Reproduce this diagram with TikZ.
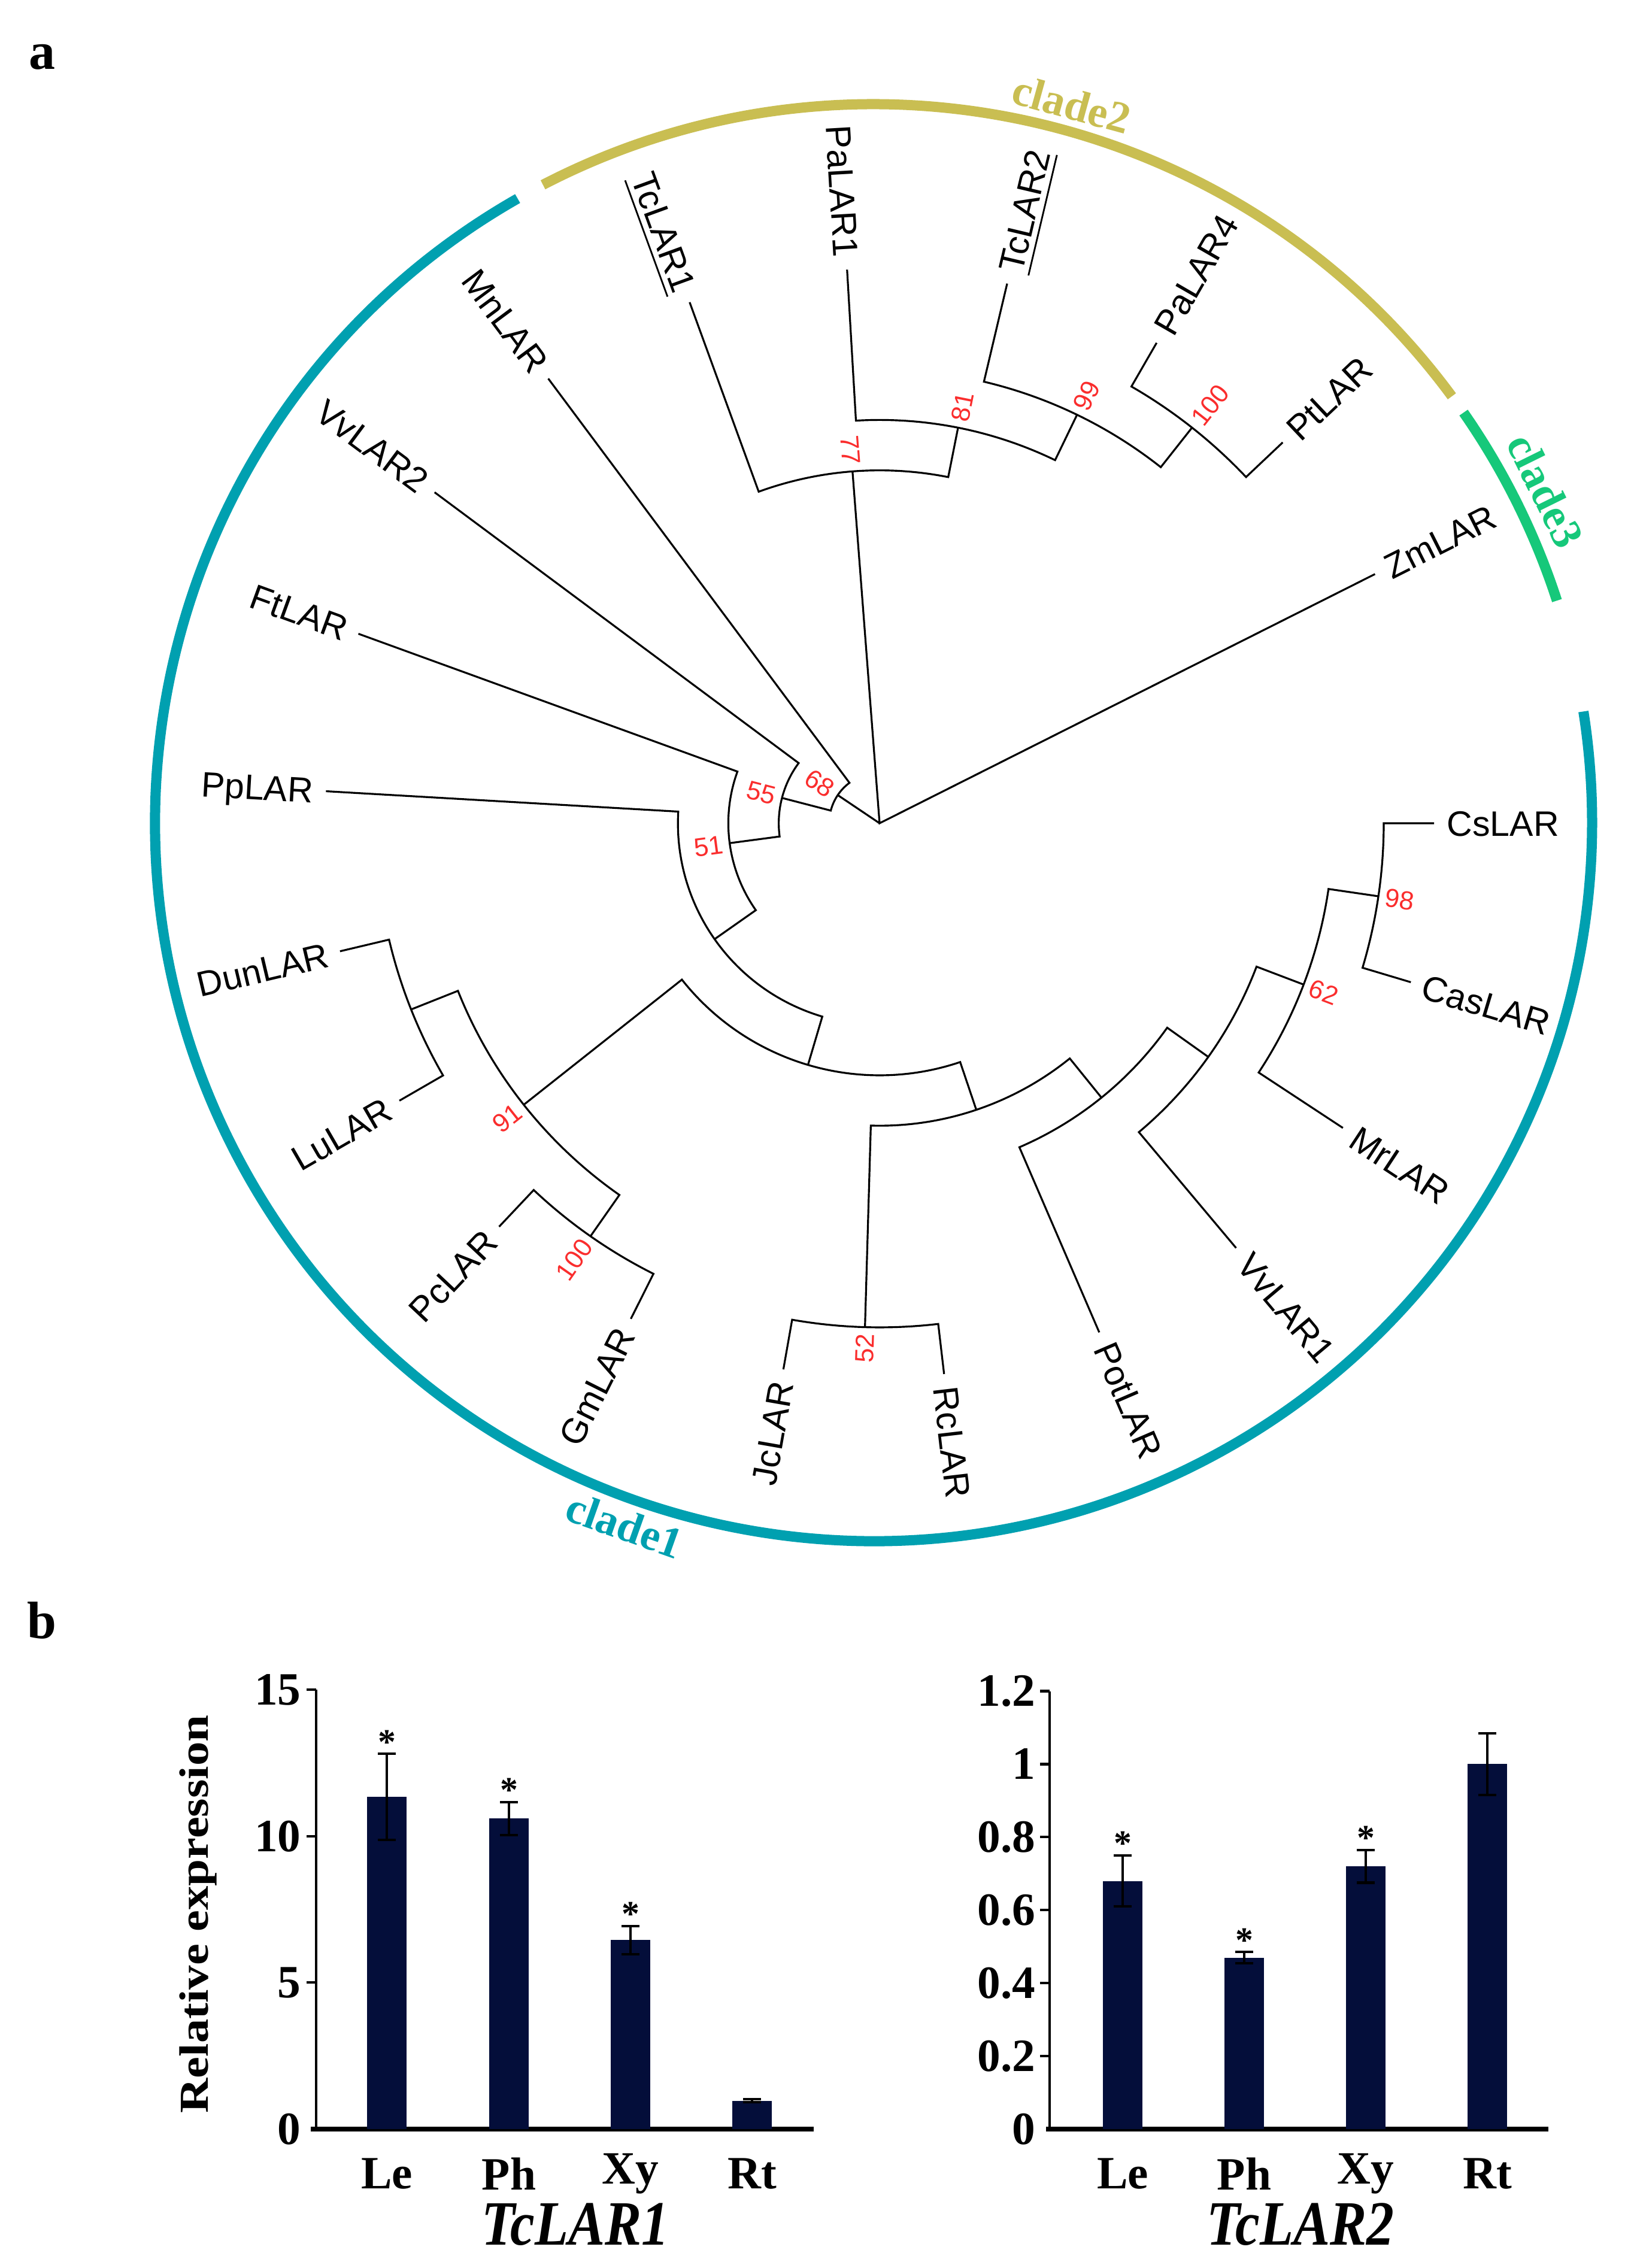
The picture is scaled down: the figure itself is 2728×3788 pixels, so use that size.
\documentclass[tikz,border=0pt]{standalone}
\usepackage{fontspec}
\setmainfont{Liberation Serif}
\setsansfont{Liberation Sans}
\definecolor{cladeA}{RGB}{0,160,176}
\definecolor{cladeB}{RGB}{201,190,82}
\definecolor{cladeC}{RGB}{22,200,122}
\definecolor{bsred}{RGB}{250,45,45}
\definecolor{barnavy}{RGB}{4,14,58}
\tikzset{
    branch/.style={line width=0.45pt},
    leaf/.style={font=\sffamily\fontsize{8.4}{10}\selectfont,inner sep=0pt,text height=6pt,text depth=0pt},
    bsval/.style={font=\sffamily\fontsize{6.2}{7}\selectfont,text=bsred,inner sep=0pt,text height=4.4pt,text depth=0pt},
    ring/.style={line width=0.85mm},
    cladelab/.style={font=\bfseries\fontsize{10.5}{11}\selectfont,inner sep=0pt},
    panel/.style={font=\bfseries\fontsize{12.5}{13}\selectfont,inner sep=0pt},
    axisx/.style={line width=1.1pt},
    axisy/.style={line width=0.6pt},
    bar/.style={fill=barnavy},
    errbar/.style={line width=0.6pt},
    ticklab/.style={font=\bfseries\fontsize{11}{11}\selectfont,inner sep=0pt,anchor=east},
    catlab/.style={font=\bfseries\fontsize{11}{11}\selectfont,inner sep=0pt,yshift=-3.75mm},
    genelab/.style={font=\bfseries\itshape\fontsize{15}{15}\selectfont,inner sep=0pt,yshift=-7.95mm},
    sig/.style={font=\bfseries\fontsize{8.5}{8.5}\selectfont,inner sep=0pt,anchor=base}
}
\def\lev{84.2}
\def\rtip{926.2}
\def\gap{20}
% two children joined by an arc at level #1
\newcommand\cladefork[5]{\draw[branch] ({#2}:{#3*\lev}) -- ({#2}:{#1*\lev}) arc[start angle={#2},end angle={#4},radius={#1*\lev}] -- ({#4}:{#5*\lev});}
\newcommand\leaftip[3]{%
  \pgfmathtruncatemacro\lside{(#2>90)&&(#2<270)}%
  \ifnum\lside=1
    \node[leaf,anchor=east,rotate={#2-180}] (#1) at ({#2}:{\rtip+\gap}) {#3};%
  \else
    \node[leaf,anchor=west,rotate={#2}] (#1) at ({#2}:{\rtip+\gap}) {#3};%
  \fi}
\newcommand\bootval[3]{%
  \pgfmathtruncatemacro\lside{(#1>90)&&(#1<270)}%
  \ifnum\lside=1
    \node[bsval,anchor=east,rotate={#1-180}] at ({#1}:{#2*\lev+10}) {#3};%
  \else
    \node[bsval,anchor=west,rotate={#1}] at ({#1}:{#2*\lev+10}) {#3};%
  \fi}

\begin{document}
\begin{tikzpicture}[x=0.05mm,y=0.05mm]
  \useasboundingbox (0,0) rectangle (2728,3788);
  \node[panel] (pa) at (70,3693) {a};
  \node[panel] (pb) at (70,1082) {b};

  % Tree
  \begin{scope}[shift={(1469,2413)}]
    % Clades
    \begin{scope}[shift={(-10,1)}]
      \draw[ring,cladeA] (119.7:1200) arc[start angle=119.7,end angle=368.9,radius=1200];
      \draw[ring,cladeB] (36.4:1200) arc[start angle=36.4,end angle=117.4,radius=1200];
      \draw[ring,cladeC] (18:1200) arc[start angle=18,end angle=34.8,radius=1200];
      \node[cladelab,text=cladeB,rotate=-15.4] (c2) at (74.6:1245) {clade2};
      \node[cladelab,text=cladeC,rotate=-63.7] (c3) at (26.3:1252) {clade3};
      \node[cladelab,text=cladeA,rotate=-19.5] (c1) at (250.5:1245) {clade1};
    \end{scope}

    % Branches
    \draw[branch] ({26.70}:{\rtip}) -- (0,0) -- ({94.40}:{7*\lev});
    \draw[branch] (0,0) -- ({146.07}:{\lev});
    \cladefork{10}{43.37}{11}{60.03}{11}
    \cladefork{9}{51.70}{10}{76.70}{11}
    \cladefork{8}{64.20}{9}{93.36}{11}
    \cladefork{7}{78.78}{8}{110.03}{11}
    \cladefork{1}{126.69}{11}{165.46}{2}
    \cladefork{2}{143.36}{11}{187.56}{3}
    \cladefork{3}{160.02}{11}{215.09}{4}
    \cladefork{4}{176.69}{11}{253.50}{5}
    \cladefork{5}{218.35}{9}{288.65}{6}
    \cladefork{9}{201.68}{10}{235.01}{10}
    \cladefork{10}{193.35}{11}{210.02}{11}
    \cladefork{10}{226.68}{11}{243.35}{11}
    \cladefork{6}{268.34}{10}{308.96}{7}
    \cladefork{10}{260.01}{11}{276.68}{11}
    \cladefork{7}{293.34}{11}{324.59}{8}
    \cladefork{8}{310.01}{11}{339.17}{9}
    \cladefork{9}{326.67}{11}{351.67}{10}
    \cladefork{10}{343.34}{11}{360}{11}

    % Leaves
    \leaftip{Zm}{26.70}{ZmLAR}
    \leaftip{Pt}{43.37}{PtLAR}
    \leaftip{PaB}{60.03}{PaLAR4}
    \leaftip{TcB}{76.70}{\underline{TcLAR2}}
    \leaftip{PaA}{93.36}{PaLAR1}
    \leaftip{TcA}{110.03}{\underline{TcLAR1}}
    \leaftip{Mn}{126.69}{MnLAR}
    \leaftip{VvB}{143.36}{VvLAR2}
    \leaftip{Ft}{160.02}{FtLAR}
    \leaftip{Pp}{176.69}{PpLAR}
    \leaftip{Dun}{193.35}{DunLAR}
    \leaftip{Lu}{210.02}{LuLAR}
    \leaftip{Pc}{226.68}{PcLAR}
    \leaftip{Gm}{243.35}{GmLAR}
    \leaftip{Jc}{260.01}{JcLAR}
    \leaftip{Rc}{276.68}{RcLAR}
    \leaftip{Pot}{293.34}{PotLAR}
    \leaftip{VvA}{310.01}{VvLAR1}
    \leaftip{Mr}{326.67}{MrLAR}
    \leaftip{Cas}{343.34}{CasLAR}
    \leaftip{Cs}{360}{CsLAR}

    % Bootstrap values
    \bootval{94.40}{7}{77}
    \bootval{78.78}{8}{81}
    \bootval{64.20}{9}{99}
    \bootval{51.70}{10}{100}
    \bootval{146.07}{1}{68}
    \bootval{165.46}{2}{55}
    \bootval{187.56}{3}{51}
    \bootval{218.35}{9}{91}
    \bootval{235.01}{10}{100}
    \bootval{268.34}{10}{52}
    \bootval{339.17}{9}{62}
    \bootval{351.67}{10}{98}
  \end{scope}

  % Expression, TcLAR1
  \node[font=\bfseries\fontsize{11.5}{12}\selectfont,rotate=90] (ylab) at (331,591) {\scalebox{1}[0.85]{Relative expression}};
  \begin{scope}[shift={(528,232)},y=2.4465mm]
    \draw[axisx] (-9,0) -- (831,0);
    \draw[axisy] (0,0) -- (0,15);
    \foreach \tk in {5,10,15} \draw[axisy] (-16,\tk) -- (0,\tk);
    \foreach \tk in {0,5,10,15} \node[ticklab] at (-24,\tk) {\tk};
    \foreach \x/\val/\er/\st/\lab in {118/11.34/1.47/1/Le,322/10.6/0.56/1/Ph,525/6.45/0.48/1/Xy,728/0.97/0.05/0/Rt}{
      \fill[bar] (\x-33,0) rectangle (\x+33,\val);
      \draw[errbar] (\x,\val-\er) -- (\x,\val+\er) (\x-15,\val+\er) -- (\x+15,\val+\er) (\x-15,\val-\er) -- (\x+15,\val-\er);
      \ifnum\st=1 \node[sig] at (\x,\val+\er) {*};\fi
      \node[catlab] at (\x,0) {\lab};
    }
    \node[genelab] (g1) at (433,0) {\scalebox{0.87}[1]{TcLAR1}};
  \end{scope}

  % Expression, TcLAR2
  \begin{scope}[shift={(1753,232)},y=30.475mm]
    \draw[axisx] (-6,0) -- (833,0);
    \draw[axisy] (0,0) -- (0,1.2);
    \foreach \tk in {0.2,0.4,0.6,0.8,1,1.2} \draw[axisy] (-16,\tk) -- (0,\tk);
    \foreach \tk in {0,0.2,0.4,0.6,0.8,1,1.2} \node[ticklab] at (-22,\tk) {\tk};
    \foreach \x/\val/\er/\st/\lab in {122/0.68/0.07/1/Le,325/0.47/0.015/1/Ph,528/0.72/0.045/1/Xy,731/1.0/0.085/0/Rt}{
      \fill[bar] (\x-33,0) rectangle (\x+33,\val);
      \draw[errbar] (\x,\val-\er) -- (\x,\val+\er) (\x-15,\val+\er) -- (\x+15,\val+\er) (\x-15,\val-\er) -- (\x+15,\val-\er);
      \ifnum\st=1 \node[sig] at (\x,\val+\er) {*};\fi
      \node[catlab] at (\x,0) {\lab};
    }
    \node[genelab] (g2) at (419,0) {\scalebox{0.87}[1]{TcLAR2}};
  \end{scope}
\end{tikzpicture}
\end{document}
